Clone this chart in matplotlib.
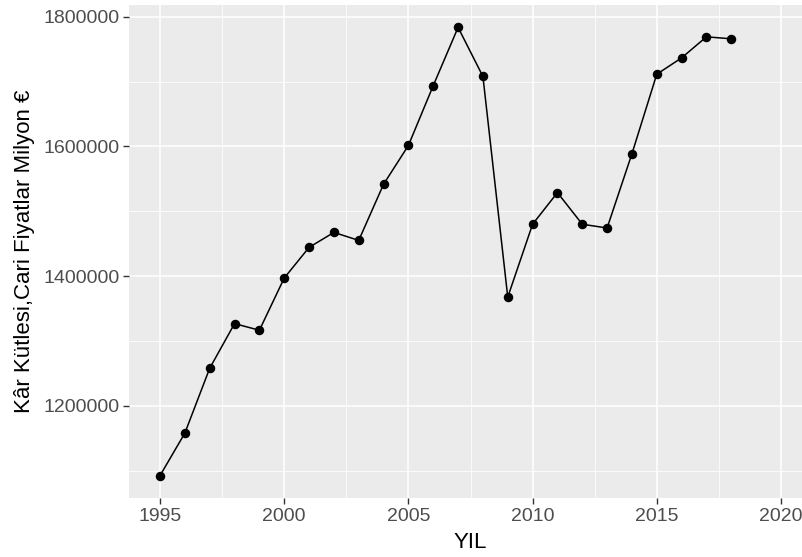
import matplotlib.pyplot as plt
import numpy as np

# yearly profit mass, current prices (million EUR)
years = [1995, 1996, 1997, 1998, 1999, 2000, 2001, 2002, 2003, 2004, 2005, 2006,
         2007, 2008, 2009, 2010, 2011, 2012, 2013, 2014, 2015, 2016, 2017, 2018]
profit = [1092300, 1157900, 1257900, 1326700, 1316500, 1397000, 1444300, 1467400,
          1455100, 1541700, 1601500, 1693800, 1783600, 1708000, 1367600, 1480000,
          1528800, 1480000, 1474200, 1588700, 1711400, 1736600, 1769100, 1766000]

x_ticks = [1995, 2000, 2005, 2010, 2015, 2020]
y_ticks = [1200000, 1400000, 1600000, 1800000]

plt.rcParams['font.family'] = ['Liberation Sans', 'DejaVu Sans']

fig = plt.figure(figsize=(8.02, 5.57), dpi=100)
# panel runs past the right edge, as in the cropped original
ax = fig.add_axes([129 / 802, 59 / 557, 683 / 802, 493 / 557])
ax.set_facecolor('#EBEBEB')
for s in ax.spines.values():
    s.set_visible(False)

# ggplot-like expansion
x0, x1 = years[0], 2020
xpad = 0.05 * (x1 - x0)
ax.set_xlim(x0 - xpad, x1 + xpad)
y0, y1 = min(profit), max(profit)
ypad = 0.05 * (y1 - y0)
ax.set_ylim(y0 - ypad, y1 + ypad)

ax.set_xticks(x_ticks)
ax.set_yticks(y_ticks)
ax.set_yticklabels([str(v) for v in y_ticks])
ax.set_xticks([t + 2.5 for t in x_ticks[:-1]], minor=True)
ax.set_yticks([1100000, 1300000, 1500000, 1700000], minor=True)
ax.grid(True, which='major', color='white', linewidth=1.1)
ax.grid(True, which='minor', color='white', linewidth=0.55)
ax.set_axisbelow(True)
ax.tick_params(which='major', length=4, width=1.0, color='#333333',
               labelcolor='#4D4D4D', labelsize=14, pad=3)
ax.tick_params(which='minor', length=0)

ax.plot(years, profit, color='black', linewidth=1.1)
ax.scatter(years, profit, s=34, color='black', zorder=3)

ax.set_xlabel('YIL', fontsize=16, color='black', labelpad=5)
ax.set_ylabel('Kâr Kütlesi,Cari Fiyatlar Milyon €', fontsize=16, color='black', labelpad=6)

fig.savefig('out.png', dpi=100)
